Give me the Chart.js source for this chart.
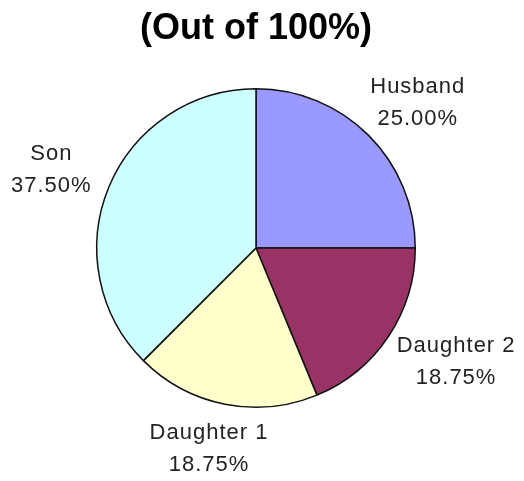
<!DOCTYPE html>
<html>
<head>
<meta charset="utf-8">
<script src="https://cdn.jsdelivr.net/npm/chart.js@4/dist/chart.umd.min.js"></script>
<style>
  html, body { margin: 0; padding: 0; background: #fff; }
  #wrap { width: 524px; height: 481px; position: relative; }
</style>
</head>
<body>
<div id="wrap"><canvas id="myChart"></canvas></div>
<script>
'use strict';
// =============== data ===============
const titleText = '(Out of 100%)';
const categories = ['Husband', 'Daughter 2', 'Daughter 1', 'Son'];
const shares = [25, 18.75, 18.75, 37.5];
const sliceColors = ['#9999FF', '#993366', '#FFFFCC', '#CCFFFF'];

// =============== title + outside labels ===============
const outsideLabels = {
    id: 'outsideLabels',
    afterDraw(chart) {
        const ctx = chart.ctx;
        ctx.save();
        ctx.fillStyle = '#000';
        ctx.textAlign = 'center';
        ctx.textBaseline = 'middle';
        ctx.font = 'bold 36px "Liberation Sans", Arial, sans-serif';
        ctx.fillText(titleText, 256, 29);

        ctx.font = '22px "Liberation Sans", Arial, sans-serif';
        ctx.letterSpacing = '1px';
        ctx.fillStyle = '#222';
        const meta = chart.getDatasetMeta(0);
        meta.data.forEach((arc, i) => {
            const p = arc.getProps(['x', 'y', 'startAngle', 'endAngle', 'outerRadius'], true);
            const mid = (p.startAngle + p.endAngle) / 2;
            const dx = Math.cos(mid), dy = Math.sin(mid);
            const lines = [categories[i], shares[i].toFixed(2) + '%'];
            const w = Math.max(...lines.map(t => ctx.measureText(t).width));
            const h = 48;
            const r = p.outerRadius + 22;
            const cx = p.x + dx * r + dx * w / 2;
            const cy = p.y + dy * r + dy * h / 2;
            ctx.fillText(lines[0], cx, cy - 16);
            ctx.fillText(lines[1], cx, cy + 16);
        });
        ctx.restore();
    }
};

// =============== chart ===============
const myChart = document.getElementById('myChart').getContext('2d');

const pieChart = new Chart(myChart, {
    type: 'pie',
    data: {
        labels: categories,
        datasets: [{
            data: shares,
            backgroundColor: sliceColors,
            borderColor: '#111',
            borderWidth: 1.5
        }]
    },
    options: {
        responsive: true,
        maintainAspectRatio: false,
        animation: false,
        layout: {
            padding: { top: 88, bottom: 73, left: 96, right: 108 }
        },
        plugins: {
            legend: { display: false },
            tooltip: { enabled: false }
        }
    },
    plugins: [outsideLabels]
});
</script>
</body>
</html>
